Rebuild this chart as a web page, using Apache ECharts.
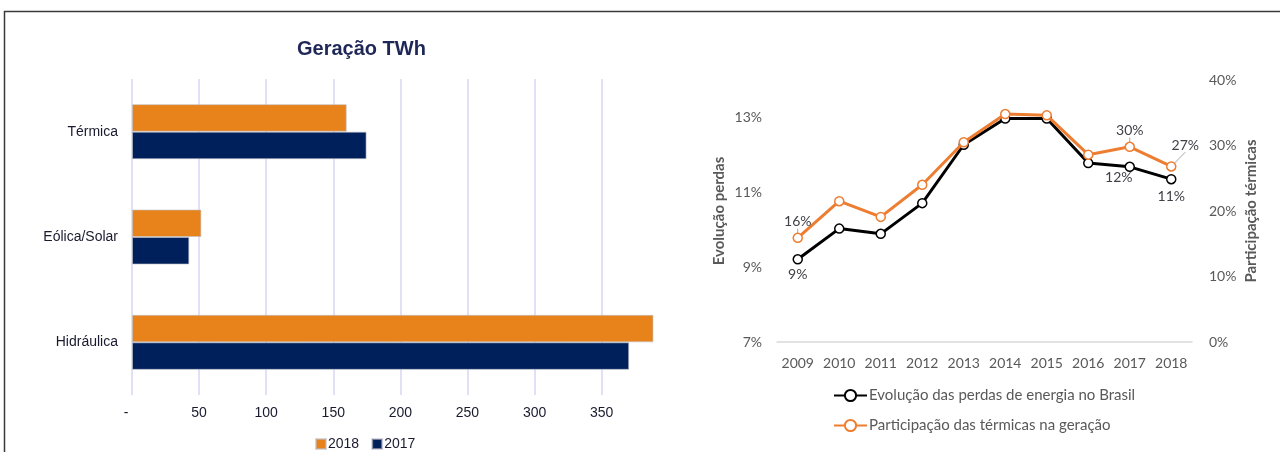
<!DOCTYPE html>
<html>
<head>
<meta charset="utf-8">
<title>Geração e perdas de energia</title>
<script src="https://cdn.jsdelivr.net/npm/echarts@6/dist/echarts.min.js"></script>
<style>
  html, body { margin: 0; padding: 0; background: #fff; }
  #chart { width: 1280px; height: 452px; }
</style>
</head>
<body>
<div id="chart"></div>
<script>
// Geração por fonte (TWh)
const fontes = ['Térmica', 'Eólica/Solar', 'Hidráulica'];
const geracao2018 = [160.0, 51.7, 388.6];
const geracao2017 = [174.8, 42.7, 370.5];

// Perdas e participação das térmicas (%)
const anos = ['2009', '2010', '2011', '2012', '2013', '2014', '2015', '2016', '2017', '2018'];
const perdas = [9.21, 10.03, 9.89, 10.71, 12.27, 12.97, 12.97, 11.78, 11.68, 11.35];
const termicas = [15.9, 21.5, 19.1, 24.0, 30.5, 34.8, 34.6, 28.6, 29.8, 26.8];

const nomePerdas = 'Evolução das perdas de energia no Brasil';
const nomeTermicas = 'Participação das térmicas na geração';

const pct = v => Math.round(v) + '%';

// rótulos de valor exibidos em alguns pontos
const rotulosPerdas = {
  0: { position: 'bottom', distance: 3 },
  8: { position: 'bottom', distance: 1, offset: [-11, -3] },
  9: { position: 'bottom', distance: 5 }
};
const rotulosTermicas = {
  0: { position: 'top', distance: 4 },
  8: { position: 'top', distance: 4, offset: [4, 0] },
  9: { position: 'top', distance: 4 }
};
// rótulo deslocado com linha de chamada
const deslocTermicas = { 9: { dx: 14, dy: -5 } };

function pontos(valores, rotulos) {
  return valores.map((v, i) => {
    const r = rotulos[i];
    if (!r) return v;
    return {
      value: v,
      label: Object.assign({
        show: true,
        formatter: p => pct(p.value),
        fontFamily: 'Lato',
        fontSize: 14,
        color: '#404048'
      }, r)
    };
  });
}

const leftFont = 'Liberation Sans, Arial, sans-serif';
const rightFont = 'Lato, sans-serif';

const chart = echarts.init(document.getElementById('chart'), null, { renderer: 'canvas' });

chart.setOption({
  animation: false,
  backgroundColor: '#ffffff',
  title: {
    text: 'Geração TWh',
    left: 297,
    top: 39,
    padding: 0,
    textStyle: { fontFamily: leftFont, fontSize: 20, fontWeight: 'bold', color: '#1f2757' }
  },
  legend: [
    {
      data: ['2018', '2017'],
      left: 315,
      top: 437,
      padding: 0,
      icon: 'rect',
      itemWidth: 10,
      itemHeight: 10,
      itemGap: 12,
      textStyle: { fontFamily: leftFont, fontSize: 14, color: '#1a1a2e', padding: [0, 0, 0, -3] }
    },
    {
      data: [nomePerdas, nomeTermicas],
      orient: 'vertical',
      left: 833,
      top: 388,
      padding: 0,
      itemWidth: 33,
      itemHeight: 14,
      itemGap: 15,
      textStyle: { fontFamily: rightFont, fontSize: 15, color: '#595959', padding: [0, 0, 0, -3] }
    }
  ],
  grid: [
    { left: 132, right: 626, top: 79, bottom: 57 },
    { left: 777, right: 88, top: 80, bottom: 110 }
  ],
  xAxis: [
    {
      gridIndex: 0,
      type: 'value',
      min: 0,
      max: 389,
      interval: 50,
      axisLine: { show: false },
      axisTick: { show: false },
      axisLabel: {
        showMaxLabel: false,
        margin: 11,
        fontFamily: leftFont,
        fontSize: 14,
        color: '#1a1a2e',
        formatter: v => (v === 0 ? '-   ' : String(v))
      },
      splitLine: { show: true, showMaxLine: false, lineStyle: { color: '#d6d6f3', width: 1.5 } }
    },
    {
      gridIndex: 1,
      type: 'category',
      data: anos,
      boundaryGap: true,
      axisLine: { show: true, lineStyle: { color: '#d9d9d9', width: 1.5 } },
      axisTick: { show: false },
      axisLabel: { interval: 0, hideOverlap: false, margin: 14, fontFamily: rightFont, fontSize: 14, color: '#595959' }
    }
  ],
  yAxis: [
    {
      gridIndex: 0,
      type: 'category',
      data: fontes,
      inverse: true,
      axisLine: { show: false },
      axisTick: { show: false },
      axisLabel: { margin: 14, fontFamily: leftFont, fontSize: 14, color: '#1a1a2e' }
    },
    {
      gridIndex: 1,
      type: 'value',
      min: 7,
      max: 14,
      interval: 2,
      position: 'left',
      axisLine: { show: false },
      axisTick: { show: false },
      splitLine: { show: false },
      axisLabel: {
        showMaxLabel: false,
        margin: 15,
        fontFamily: rightFont,
        fontSize: 14,
        color: '#595959',
        formatter: v => v + '%'
      },
      name: 'Evolução perdas',
      nameLocation: 'middle',
      nameGap: 50,
      nameTextStyle: { fontFamily: rightFont, fontSize: 15, fontWeight: 'bold', color: '#595959' }
    },
    {
      gridIndex: 1,
      type: 'value',
      min: 0,
      max: 40,
      interval: 10,
      position: 'right',
      axisLine: { show: false },
      axisTick: { show: false },
      splitLine: { show: false },
      axisLabel: {
        margin: 17,
        fontFamily: rightFont,
        fontSize: 14,
        color: '#595959',
        formatter: v => v + '%'
      },
      name: 'Participação térmicas',
      nameLocation: 'middle',
      nameGap: 52,
      nameTextStyle: { fontFamily: rightFont, fontSize: 15, fontWeight: 'bold', color: '#595959' }
    }
  ],
  series: [
    {
      name: '2018',
      type: 'bar',
      xAxisIndex: 0,
      yAxisIndex: 0,
      data: geracao2018,
      barWidth: 27.5,
      barGap: '0%',
      itemStyle: { color: '#e8821a', borderColor: 'rgba(190,190,200,0.6)', borderWidth: 1 }
    },
    {
      name: '2017',
      type: 'bar',
      xAxisIndex: 0,
      yAxisIndex: 0,
      data: geracao2017,
      barWidth: 27.5,
      barGap: '0%',
      itemStyle: { color: '#00205b', borderColor: 'rgba(190,190,200,0.6)', borderWidth: 1 }
    },
    {
      name: nomePerdas,
      type: 'line',
      xAxisIndex: 1,
      yAxisIndex: 1,
      data: pontos(perdas, rotulosPerdas),
      symbol: 'circle',
      symbolSize: 9,
      lineStyle: { color: '#000000', width: 3 },
      itemStyle: { color: '#ffffff', borderColor: '#000000', borderWidth: 1.5 },
      z: 3
    },
    {
      name: nomeTermicas,
      type: 'line',
      xAxisIndex: 1,
      yAxisIndex: 2,
      data: pontos(termicas, rotulosTermicas),
      symbol: 'circle',
      symbolSize: 9,
      lineStyle: { color: '#ed7d31', width: 3 },
      itemStyle: { color: '#ffffff', borderColor: '#ed7d31', borderWidth: 1.5 },
      labelLine: { show: true, length2: 0, lineStyle: { color: '#a6a6a6', width: 1 } },
      labelLayout: p => deslocTermicas[p.dataIndex] || {},
      z: 4
    }
  ],
  graphic: [
    {
      type: 'polyline',
      shape: { points: [[4.5, 452], [4.5, 11.5], [1280, 11.5]] },
      style: { stroke: '#3a3a3a', lineWidth: 1.5, fill: null },
      silent: true
    }
  ]
});
</script>
</body>
</html>
